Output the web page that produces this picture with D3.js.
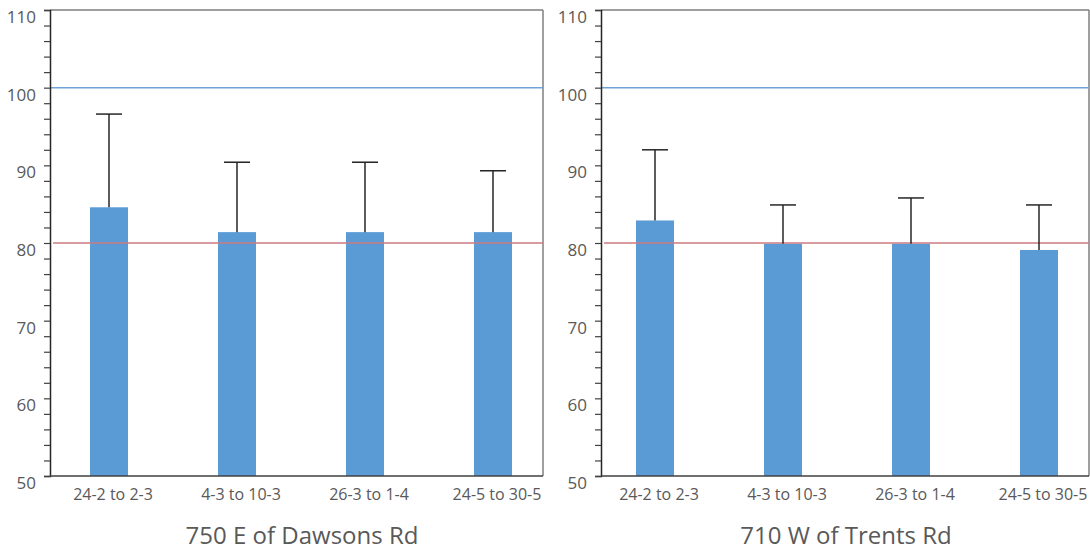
<!DOCTYPE html>
<html>
<head>
<meta charset="utf-8">
<script src="https://cdn.jsdelivr.net/npm/d3@7"></script>
<style>
  body { margin: 0; background: #fff; }
  text { font-family: "Open Sans", sans-serif; fill: #595959; }
</style>
</head>
<body>
<div id="chart"></div>
<script>
// periods on the x axis (same for both sites)
const periods = ["24-2 to 2-3", "4-3 to 10-3", "26-3 to 1-4", "24-5 to 30-5"];

// site titles
const titles = ["750 E of Dawsons Rd", "710 W of Trents Rd"];

// bar values and top of the error bar, per site
const dawsonsMean = [84.6, 81.4, 81.4, 81.4];
const dawsonsUpper = [96.6, 90.4, 90.4, 89.3];
const trentsMean = [82.9, 79.9, 79.9, 79.1];
const trentsUpper = [92.0, 84.9, 85.8, 84.9];

// reference lines
const upperRef = 100;
const lowerRef = 80;

const yTicks = [50, 60, 70, 80, 90, 100, 110];

const width = 1090, height = 551;

const svg = d3.select("#chart")
    .append("svg")
    .attr("width", width)
    .attr("height", height);

const y = d3.scaleLinear()
    .domain([50, 110])
    .range([476, 10]);

const panels = [
    {title: titles[0], mean: dawsonsMean, upper: dawsonsUpper, left: 50, right: 543, bandStart: 45, titleX: 302},
    {title: titles[1], mean: trentsMean, upper: trentsUpper, left: 601, right: 1089, bandStart: 591, titleX: 846}
];

panels.forEach(p => {
    const g = svg.append("g");

    const x = d3.scaleBand()
        .domain(periods)
        .range([p.bandStart, p.bandStart + 128 * 4]);

    const barW = 38;
    const data = periods.map((d, i) => ({period: d, mean: p.mean[i], upper: p.upper[i]}));

    // frame top / right
    g.append("line")
        .attr("x1", p.left).attr("x2", p.right)
        .attr("y1", y(110)).attr("y2", y(110))
        .attr("stroke", "#7f7f7f").attr("stroke-width", 1.5);
    g.append("line")
        .attr("x1", p.right).attr("x2", p.right)
        .attr("y1", y(110)).attr("y2", y(50))
        .attr("stroke", "#7f7f7f").attr("stroke-width", 1.5);

    // bars
    g.selectAll(".bar")
        .data(data)
        .enter().append("rect")
        .attr("class", "bar")
        .attr("x", d => x(d.period) + x.bandwidth() / 2 - barW / 2)
        .attr("y", d => y(d.mean))
        .attr("width", barW)
        .attr("height", d => y(50) - y(d.mean))
        .attr("fill", "#5b9bd5");

    // reference lines
    g.append("line")
        .attr("x1", p.left).attr("x2", p.right)
        .attr("y1", y(upperRef)).attr("y2", y(upperRef))
        .attr("stroke", "#6fa3d8").attr("stroke-width", 1.5);
    g.append("line")
        .attr("x1", p.left + 3).attr("x2", p.right)
        .attr("y1", y(lowerRef)).attr("y2", y(lowerRef))
        .attr("stroke", "#cd7a80").attr("stroke-width", 1.5);

    // error bars (upper only)
    const err = g.selectAll(".err")
        .data(data)
        .enter().append("g")
        .attr("class", "err")
        .attr("stroke", "#262626")
        .attr("stroke-width", 1.5);
    err.append("line")
        .attr("x1", d => x(d.period) + x.bandwidth() / 2)
        .attr("x2", d => x(d.period) + x.bandwidth() / 2)
        .attr("y1", d => y(d.mean))
        .attr("y2", d => y(d.upper));
    err.append("line")
        .attr("x1", d => x(d.period) + x.bandwidth() / 2 - 13)
        .attr("x2", d => x(d.period) + x.bandwidth() / 2 + 13)
        .attr("y1", d => y(d.upper))
        .attr("y2", d => y(d.upper));

    // y axis with minor ticks every 2
    const yAxis = g.append("g")
        .attr("transform", `translate(${p.left},0)`)
        .call(d3.axisLeft(y).tickValues(d3.range(50, 111, 2)).tickSize(6).tickFormat(""));
    yAxis.select(".domain").attr("stroke", "#262626").attr("stroke-width", 1.5);
    yAxis.selectAll(".tick line").attr("stroke", "#404040").attr("stroke-width", 1.2);

    g.selectAll(".ylab")
        .data(yTicks)
        .enter().append("text")
        .attr("class", "ylab")
        .attr("x", p.left - 14)
        .attr("y", d => y(d) + 7)
        .attr("dy", "0.35em")
        .attr("text-anchor", "end")
        .style("font-size", "17px")
        .text(d => d);

    // x axis
    g.append("line")
        .attr("x1", p.left).attr("x2", p.right)
        .attr("y1", y(50)).attr("y2", y(50))
        .attr("stroke", "#404040").attr("stroke-width", 1.5);

    g.selectAll(".xlab")
        .data(periods)
        .enter().append("text")
        .attr("class", "xlab")
        .attr("x", d => x(d) + x.bandwidth() / 2 + 4)
        .attr("y", 494)
        .attr("dy", "0.35em")
        .attr("text-anchor", "middle")
        .style("font-size", "16px")
        .text(d => d);

    g.append("text")
        .attr("x", p.titleX)
        .attr("y", 536)
        .attr("dy", "0.35em")
        .attr("text-anchor", "middle")
        .style("font-size", "24px")
        .text(p.title);
});
</script>
</body>
</html>
